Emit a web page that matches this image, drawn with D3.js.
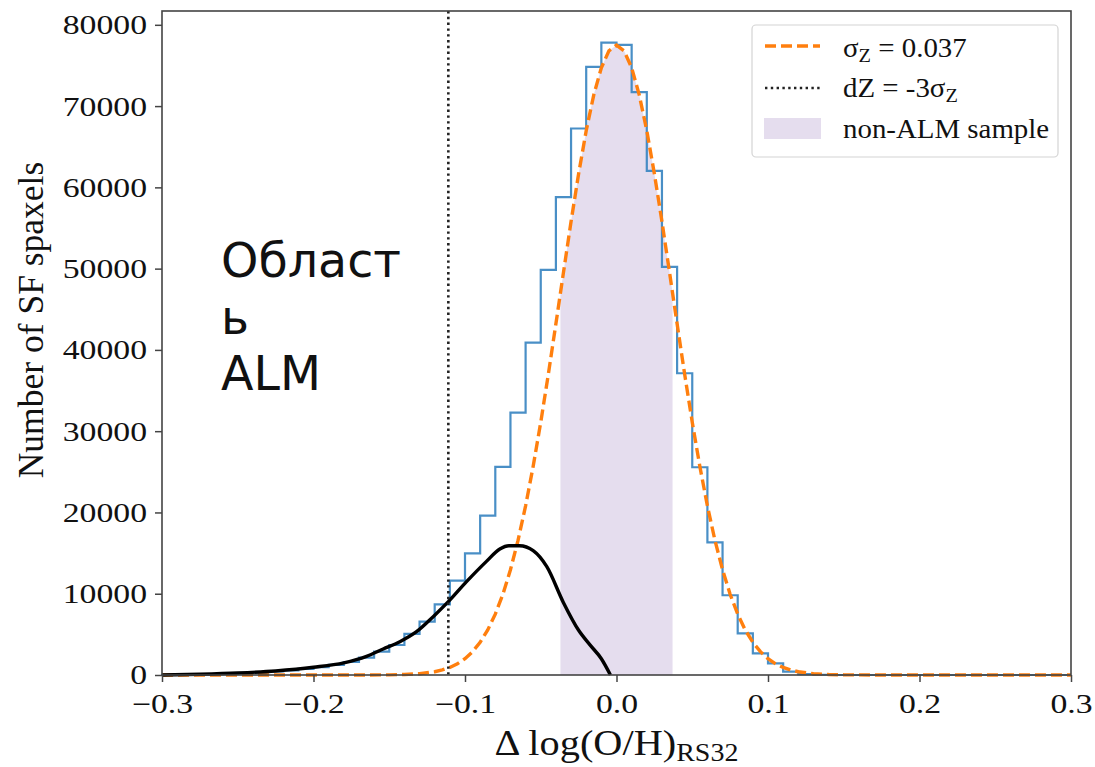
<!DOCTYPE html>
<html>
<head>
<meta charset="utf-8">
<script src="https://cdn.jsdelivr.net/npm/d3@7"></script>
<style>
  body { margin: 0; background: #fff; }
  text { font-family: "Liberation Serif", "Times New Roman", serif; fill: #111; }
</style>
</head>
<body>
<div class="chart"></div>
<script>
// chart values
var sigmaZ = 0.037;
var dZ = -0.111;            // -3 sigma
var shadeRange = [-0.037, 0.037];

// histogram: left bin edges (width 0.01) and counts
var binStarts = [-0.30, -0.29, -0.28, -0.27, -0.26, -0.25, -0.24, -0.23, -0.22, -0.21,
  -0.20, -0.19, -0.18, -0.17, -0.16, -0.15, -0.14, -0.13, -0.12, -0.11,
  -0.10, -0.09, -0.08, -0.07, -0.06, -0.05, -0.04, -0.03, -0.02, -0.01,
  0.00, 0.01, 0.02, 0.03, 0.04, 0.05, 0.06, 0.07, 0.08, 0.09,
  0.10, 0.11, 0.12, 0.13, 0.14, 0.15, 0.16, 0.17, 0.18, 0.19,
  0.20, 0.21, 0.22, 0.23, 0.24, 0.25, 0.26, 0.27, 0.28, 0.29];
var binCounts = [20, 40, 70, 110, 170, 240, 330, 440, 580, 760,
  980, 1250, 1600, 2130, 2870, 3690, 5050, 6560, 8700, 11610,
  14970, 19610, 25600, 32290, 40900, 49850, 58800, 67240, 74830, 77820,
  77540, 71720, 62030, 50220, 37130, 25560, 16330, 9810, 5130, 2670,
  1440, 410, 120, 30, 0, 0, 0, 0, 0, 0,
  0, 0, 0, 0, 0, 0, 0, 0, 0, 0];

// gaussian fit (orange dashed)
var gaussX = [-0.30, -0.20, -0.17, -0.15, -0.14, -0.13, -0.12, -0.115, -0.11, -0.105, -0.10,
  -0.095, -0.09, -0.085, -0.08, -0.075, -0.07, -0.065, -0.06, -0.055, -0.05, -0.045, -0.04,
  -0.037, -0.035, -0.03, -0.025, -0.02, -0.015, -0.01, -0.005, 0.0,
  0.005, 0.01, 0.015, 0.02, 0.025, 0.03, 0.035, 0.037, 0.04, 0.045, 0.05, 0.055, 0.06,
  0.065, 0.07, 0.075, 0.08, 0.085, 0.09, 0.095, 0.10, 0.105, 0.11, 0.115, 0.12, 0.13,
  0.14, 0.15, 0.17, 0.20, 0.30];
var gaussY = [0, 0, 2, 20, 60, 160, 400, 620, 930, 1380, 2010,
  2870, 4020, 5540, 7490, 9930, 12950, 16560, 20810, 25680, 31100, 36990, 43210,
  47010, 49540, 55790, 61680, 66970, 71390, 74720, 76800, 77500,
  76800, 74720, 71390, 66970, 61680, 55790, 49540, 47010, 43210, 36990, 31100, 25680, 20810,
  16560, 12950, 9930, 7490, 5540, 4020, 2870, 2010, 1380, 930, 620, 400, 160,
  60, 20, 2, 0, 0];

// ALM sample (black line)
var almX = [-0.30, -0.275, -0.25, -0.225, -0.20, -0.18, -0.165, -0.154, -0.143, -0.132,
  -0.121, -0.111, -0.099, -0.086, -0.077, -0.071, -0.064, -0.055, -0.046, -0.035,
  -0.025, -0.0175, -0.01, -0.004];
var almY = [0, 100, 250, 500, 950, 1500, 2300, 3200, 4100, 5330,
  7180, 9020, 11480, 13950, 15500, 15900, 15900, 15300, 13330, 8900,
  5500, 3700, 2000, 0];

var xTicks = [-0.3, -0.2, -0.1, 0.0, 0.1, 0.2, 0.3];
var yTicks = [0, 10000, 20000, 30000, 40000, 50000, 60000, 70000, 80000];

var svgWidth = 1095;
var svgHeight = 767;
var margin = { top: 11, right: 24, bottom: 92, left: 162 };
var width = svgWidth - margin.left - margin.right;
var height = svgHeight - margin.top - margin.bottom;

var svg = d3.select(".chart")
  .append("svg")
  .attr("width", svgWidth)
  .attr("height", svgHeight)
  .style("display", "block");

svg.append("rect").attr("width", svgWidth).attr("height", svgHeight).attr("fill", "#fff");

var chartGroup = svg.append("g")
  .attr("transform", `translate(${margin.left}, ${margin.top})`);

var xScale = d3.scaleLinear().domain([-0.3, 0.3]).range([0, width]);
var yScale = d3.scaleLinear().domain([0, 81700]).range([height, 0]);

var gauss = gaussX.map((x, i) => ({ x: x, y: gaussY[i] }));
var alm = almX.map((x, i) => ({ x: x, y: almY[i] }));

// shaded non-ALM region under the gaussian
chartGroup.append("clipPath").attr("id", "shadeClip")
  .append("rect")
  .attr("x", xScale(shadeRange[0]))
  .attr("width", xScale(shadeRange[1]) - xScale(shadeRange[0]))
  .attr("y", 0)
  .attr("height", height);

chartGroup.append("path")
  .datum(gauss)
  .attr("clip-path", "url(#shadeClip)")
  .attr("fill", "#e5ddee")
  .attr("d", d3.area().x(d => xScale(d.x)).y0(yScale(0)).y1(d => yScale(d.y)));

// step histogram
var stepPts = [{ x: binStarts[0], y: 0 }];
binStarts.forEach(function(b, i) { stepPts.push({ x: b, y: binCounts[i] }); });
stepPts.push({ x: 0.30, y: binCounts[binCounts.length - 1] });
stepPts.push({ x: 0.30, y: 0 });

chartGroup.append("path")
  .datum(stepPts)
  .attr("fill", "none")
  .attr("stroke", "#3583c0")
  .attr("stroke-opacity", 0.9)
  .attr("stroke-width", 2.2)
  .attr("d", d3.line().curve(d3.curveStepAfter).x(d => xScale(d.x)).y(d => yScale(d.y)));

// gaussian dashed
chartGroup.append("path")
  .datum(gauss)
  .attr("fill", "none")
  .attr("stroke", "#ff7f0e")
  .attr("stroke-width", 3.4)
  .attr("stroke-dasharray", "11,5")
  .attr("d", d3.line().x(d => xScale(d.x)).y(d => yScale(d.y)));

// ALM line
chartGroup.append("path")
  .datum(alm)
  .attr("fill", "none")
  .attr("stroke", "#000")
  .attr("stroke-width", 3.4)
  .attr("stroke-linejoin", "round")
  .attr("d", d3.line().curve(d3.curveMonotoneX).x(d => xScale(d.x)).y(d => yScale(d.y)));

// dZ dotted line
chartGroup.append("line")
  .attr("x1", xScale(dZ)).attr("x2", xScale(dZ))
  .attr("y1", 0).attr("y2", height)
  .attr("stroke", "#222")
  .attr("stroke-width", 2.6)
  .attr("stroke-dasharray", "2.4,3.4");

// axes
var bottomAxis = d3.axisBottom(xScale).tickValues(xTicks).tickFormat(d3.format(".1f")).tickSize(7).tickSizeOuter(0);
var leftAxis = d3.axisLeft(yScale).tickValues(yTicks).tickFormat(d3.format("d")).tickSize(7).tickSizeOuter(0);

var xg = chartGroup.append("g")
  .attr("transform", `translate(0, ${height})`)
  .call(bottomAxis);
xg.selectAll("text")
  .attr("y", 38).attr("dy", 0)
  .attr("font-size", 27)
  .attr("transform", "scale(1.25,1)");

var yg = chartGroup.append("g").call(leftAxis);
yg.selectAll("text")
  .attr("x", -15 / 1.25)
  .attr("dy", "0.33em")
  .attr("font-size", 27)
  .attr("transform", "scale(1.25,1)");

[xg, yg].forEach(function(g) {
  g.select(".domain").remove();
  g.selectAll("line").attr("stroke", "#444").attr("stroke-width", 1.5);
  g.selectAll("text").attr("fill", "#111").style("font-family", "Liberation Serif, serif");
});

// frame
chartGroup.append("rect")
  .attr("width", width).attr("height", height)
  .attr("fill", "none")
  .attr("stroke", "#444")
  .attr("stroke-width", 1.6);

// axis labels
var xl = svg.append("text")
  .attr("transform", `translate(${margin.left + width / 2}, 755) scale(1.12,1)`)
  .attr("text-anchor", "middle")
  .attr("font-size", 36);
xl.append("tspan").text("\u0394 log(O/H)");
xl.append("tspan").attr("font-size", 25).attr("dy", 6).text("RS32");

svg.append("text")
  .attr("transform", "translate(43, 320) rotate(-90)")
  .attr("text-anchor", "middle")
  .attr("font-size", 35.5)
  .text("Number of SF spaxels");

// annotation
var ann = svg.append("text")
  .style("font-family", "DejaVu Sans, sans-serif")
  .attr("font-size", 47.5)
  .attr("fill", "#000");
[["Област", 277], ["ь", 334], ["ALM", 390]].forEach(function(l) {
  ann.append("tspan").attr("x", 221).attr("y", l[1]).text(l[0]);
});

// legend
var legend = svg.append("g");
legend.append("rect")
  .attr("x", 752).attr("y", 25)
  .attr("width", 306).attr("height", 132)
  .attr("rx", 4)
  .attr("fill", "#fff").attr("fill-opacity", 0.8)
  .attr("stroke", "#d4d4d4").attr("stroke-width", 1.2);

legend.append("line").attr("x1", 765).attr("x2", 820).attr("y1", 46).attr("y2", 46)
  .attr("stroke", "#ff7f0e").attr("stroke-width", 3.4).attr("stroke-dasharray", "11,5");
legend.append("line").attr("x1", 765).attr("x2", 820).attr("y1", 88).attr("y2", 88)
  .attr("stroke", "#222").attr("stroke-width", 2.6).attr("stroke-dasharray", "2.4,3.4");
legend.append("rect").attr("x", 764).attr("y", 118).attr("width", 57).attr("height", 21)
  .attr("fill", "#e5ddee");

function legendText(y) {
  return legend.append("text")
    .attr("transform", `translate(843, ${y}) scale(1.07,1)`)
    .attr("font-size", 27);
}
var t1 = legendText(57);
t1.append("tspan").text("\u03c3");
t1.append("tspan").attr("font-size", 19).attr("dy", 5).text("Z");
t1.append("tspan").attr("dy", -5).text(" = " + sigmaZ);

var t2 = legendText(97);
t2.append("tspan").text("dZ = -3\u03c3");
t2.append("tspan").attr("font-size", 19).attr("dy", 5).text("Z");

legendText(138).text("non-ALM sample");
</script>
</body>
</html>
